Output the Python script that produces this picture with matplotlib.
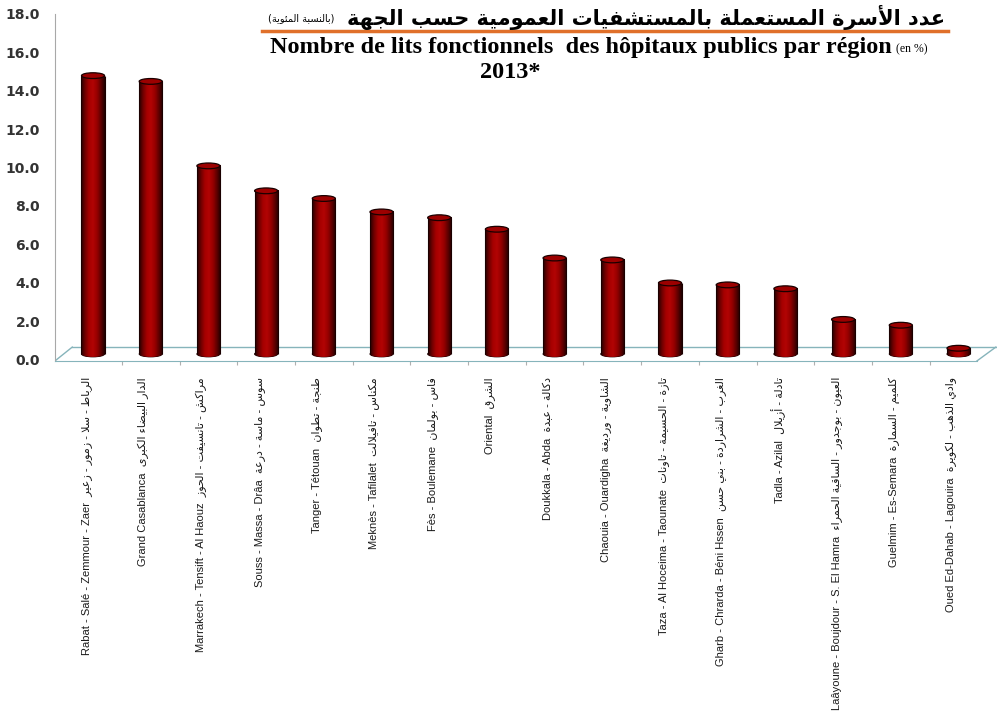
import numpy as np
import matplotlib
matplotlib.use("Agg")
import matplotlib.pyplot as plt
from matplotlib.patches import Ellipse
from matplotlib.lines import Line2D
from matplotlib.colors import LinearSegmentedColormap
import matplotlib.transforms as mtransforms

# --- data -------------------------------------------------------------
regions_fr = ["Rabat - Salé - Zemmour - Zaer", "Grand Casablanca",
              "Marrakech - Tensift - Al Haouz", "Souss - Massa - Drâa",
              "Tanger - Tétouan", "Meknès - Tafilalet", "Fès - Boulemane",
              "Oriental", "Doukkala - Abda", "Chaouia - Ouardigha",
              "Taza - Al Hoceima - Taounate", "Gharb - Chrarda - Béni Hssen",
              "Tadla - Azilal", "Laâyoune - Boujdour - S. El Hamra",
              "Guelmim - Es-Semara", "Oued Ed-Dahab - Lagouira"]
regions_ar = ["الرباط - سلا - زمور - زعير", "الدار البيضاء الكبرى",
              "مراكش - تانسيفت - الحوز", "سوس - ماسة - درعة",
              "طنجة - تطوان", "مكناس - تافيلالت", "فاس - بولمان",
              "الشرق", "دكالة - عبدة", "الشاوية - ورديغة",
              "تازة - الحسيمة - تاونات", "الغرب - الشراردة - بني حسن",
              "تادلة - أزيلال", "العيون - بوجدور - الساقية الحمراء",
              "كلميم - السمارة", "وادي الذهب - لكويرة"]
share = [14.5, 14.2, 9.8, 8.5, 8.1, 7.4, 7.1, 6.5,
         5.0, 4.9, 3.7, 3.6, 3.4, 1.8, 1.5, 0.3]
yticks = [0, 2, 4, 6, 8, 10, 12, 14, 16, 18]

title_ar = "عدد الأسرة المستعملة بالمستشفيات العمومية حسب الجهة"
unit_ar = "(بالنسبة المئوية)"
title_fr = "Nombre de lits fonctionnels  des hôpitaux publics par région"


# --- minimal arabic shaping (matplotlib does no shaping / bidi) -------
FORMS = {}
code = 0xFE80
for cp, n in [(0x621, 1), (0x622, 2), (0x623, 2), (0x624, 2), (0x625, 2),
              (0x626, 4), (0x627, 2), (0x628, 4), (0x629, 2), (0x62A, 4),
              (0x62B, 4), (0x62C, 4), (0x62D, 4), (0x62E, 4), (0x62F, 2),
              (0x630, 2), (0x631, 2), (0x632, 2), (0x633, 4), (0x634, 4),
              (0x635, 4), (0x636, 4), (0x637, 4), (0x638, 4), (0x639, 4),
              (0x63A, 4), (0x641, 4), (0x642, 4), (0x643, 4), (0x644, 4),
              (0x645, 4), (0x646, 4), (0x647, 4), (0x648, 2), (0x649, 2),
              (0x64A, 4)]:
    FORMS[chr(cp)] = [chr(code + k) for k in range(n)]
    code += n
LAM_ALEF = {"\u0622": 0xFEF5, "\u0623": 0xFEF7, "\u0625": 0xFEF9, "\u0627": 0xFEFB}


def shape(text):
    out = []
    i = 0
    while i < len(text):
        c = text[i]
        if c not in FORMS:
            out.append(c)
            i += 1
            continue
        prev = text[i - 1] if i > 0 else ""
        nxt = text[i + 1] if i + 1 < len(text) else ""
        jp = prev in FORMS and len(FORMS[prev]) == 4
        if c == "\u0644" and nxt in LAM_ALEF:
            out.append(chr(LAM_ALEF[nxt] + (1 if jp else 0)))
            i += 2
            continue
        f = FORMS[c]
        jn = len(f) == 4 and nxt in FORMS and nxt != "\u0621"
        if len(f) == 4:
            idx = 3 if (jp and jn) else 1 if jp else 2 if jn else 0
        elif len(f) == 2:
            idx = 1 if jp else 0
        else:
            idx = 0
        out.append(f[idx])
        i += 1
    return "".join(out)[::-1].translate(str.maketrans("()", ")("))


# --- figure -----------------------------------------------------------
W, H = 997, 713
fig = plt.figure(figsize=(W / 100, H / 100), dpi=100)
ax = fig.add_axes([55 / W, 1 - 365 / H, 942 / W, 360 / H])
ax.patch.set_visible(False)

x = np.arange(len(share))
bw = 0.40          # cylinder width
eh = 0.30          # ellipse height (data units)
depth = 0.36       # half depth of the 3d floor

cyl = LinearSegmentedColormap.from_list(
    "cyl", ["#250000", "#700000", "#a60000", "#b20404", "#980000", "#600000", "#200000"])
grad = np.linspace(0, 1, 64)[None, :]

for xi, v in zip(x, share):
    # bottom cap
    bot = Ellipse((xi, 0), bw, eh, facecolor="#5a0000", edgecolor="#1a0000", lw=0.7, zorder=2)
    ax.add_patch(bot)
    im = ax.imshow(grad, cmap=cyl, extent=[xi - bw / 2, xi + bw / 2, -eh / 2, eh / 2],
                   aspect="auto", zorder=2.1, interpolation="bilinear")
    im.set_clip_path(bot)
    # body
    ax.imshow(grad, cmap=cyl, extent=[xi - bw / 2, xi + bw / 2, 0, v],
              aspect="auto", zorder=3, interpolation="bilinear")
    ax.vlines([xi - bw / 2, xi + bw / 2], 0, v, color="#1a0000", lw=0.8, zorder=3.1)
    # top cap
    ax.add_patch(Ellipse((xi, v), bw, eh, facecolor="#9c0000", edgecolor="#1a0000",
                         lw=0.9, zorder=4))

x0, x1 = -0.659, 15.667
ax.set_xlim(x0, x1)
ax.set_ylim(-0.573, 18.18)

# floor
floor_c = "#86b4bb"
ax.plot([-0.36, x1 - 0.02], [depth, depth], color=floor_c, lw=1.0, zorder=1)
ax.plot([x0, -0.36], [-depth, depth], color=floor_c, lw=1.0, zorder=1)
ax.plot([15.32, x1 - 0.02], [-depth, depth], color=floor_c, lw=1.0, zorder=1)

for s in ["top", "right"]:
    ax.spines[s].set_visible(False)
ax.spines["bottom"].set_position(("data", -depth))
ax.spines["bottom"].set_bounds(x0, 15.32)
ax.spines["bottom"].set_color(floor_c)
ax.spines["left"].set_bounds(-depth, 17.72)
ax.spines["left"].set_color("#a8a8a8")
ax.set_xticks(x[:-1] + 0.5)
ax.set_xticklabels([])
ax.tick_params(axis="x", length=3, color="#b0b0b0", direction="out")
ax.set_yticks([])

ytr = mtransforms.blended_transform_factory(ax.transAxes, ax.transData)
for t in yticks:
    ax.text(-15 / 942, t - depth, f"{t:.1f}", transform=ytr, ha="right", va="center",
            fontsize=10, color="#333333", fontweight="bold")

for xi, fr, ar in zip(x, regions_fr, regions_ar):
    ax.text(xi - 0.12, -1.2, fr + "  " + shape(ar), rotation=90, ha="center", va="top",
            fontsize=8, family=["Liberation Sans", "DejaVu Sans"], color="#1a1a1a",
            clip_on=False)

# titles
fig.text(945 / W, 1 - 17 / H, shape(title_ar), ha="right", va="center",
         fontsize=15, fontweight="bold", family="DejaVu Sans")
fig.text(334 / W, 1 - 18 / H, shape(unit_ar), ha="right", va="center",
         fontsize=7, family="DejaVu Sans")
fig.add_artist(Line2D([262 / W, 948 / W], [1 - 31 / H] * 2, color="#e0702a", lw=2.5,
                      transform=fig.transFigure))
fig.text(892 / W, 1 - 48 / H, title_fr, ha="right", va="center", fontsize=17.5,
         fontweight="bold", family="Liberation Serif")
fig.text(896 / W, 1 - 49 / H, "(en %)", ha="left", va="center", fontsize=8.5,
         family="Liberation Serif")
fig.text(510 / W, 1 - 72 / H, "2013*", ha="center", va="center", fontsize=17.5,
         fontweight="bold", family="Liberation Serif")

fig.savefig("out.png", dpi=100)
